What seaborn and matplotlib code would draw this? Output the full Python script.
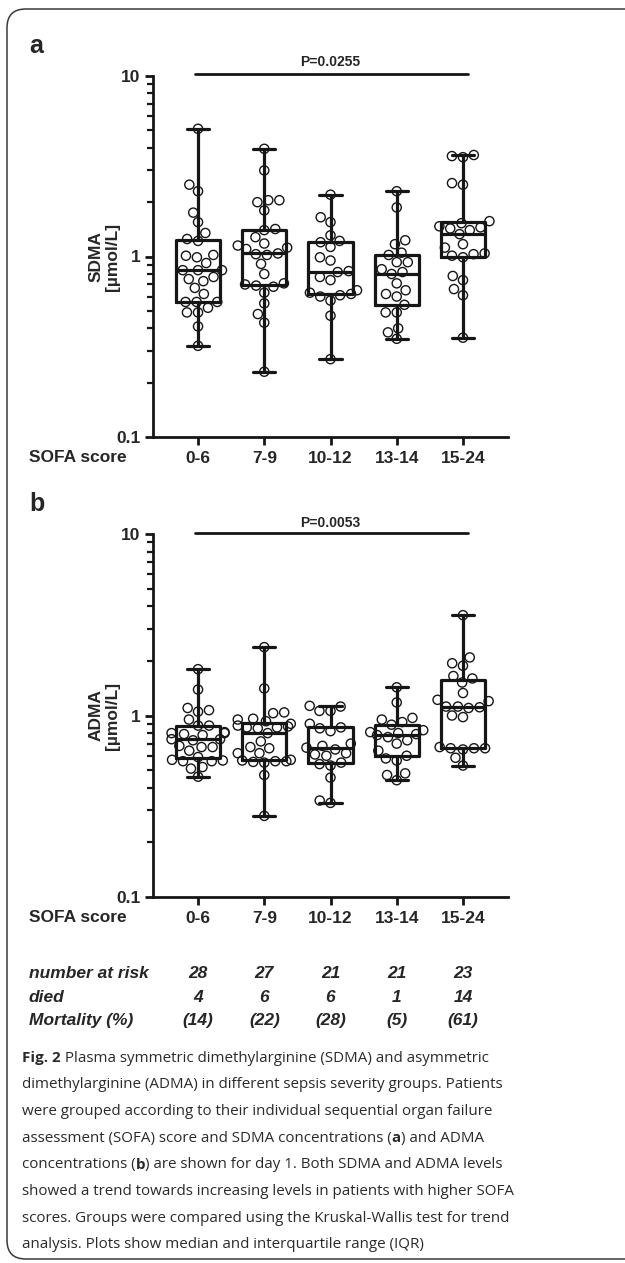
import matplotlib
matplotlib.use('Agg')
import pandas as pd
import matplotlib.pyplot as plt
import seaborn as sns
from matplotlib.patches import FancyBboxPatch
from matplotlib.ticker import FixedLocator, NullFormatter
from matplotlib.transforms import blended_transform_factory

groups = ['0-6', '7-9', '10-12', '13-14', '15-24']

# SDMA day 1 (umol/L)
sdma_0_6 = [0.32, 0.41, 0.49, 0.49, 0.52, 0.56, 0.56, 0.56, 0.62, 0.67, 0.73, 0.75, 0.77, 0.84,
            0.84, 0.84, 0.92, 0.99, 1.01, 1.02, 1.22, 1.25, 1.35, 1.55, 1.75, 2.3, 2.5, 5.1]
sdma_7_9 = [0.23, 0.43, 0.48, 0.55, 0.63, 0.68, 0.69, 0.70, 0.71, 0.80, 0.91, 1.02, 1.03, 1.04,
            1.10, 1.12, 1.15, 1.18, 1.28, 1.40, 1.42, 1.8, 2.0, 2.05, 2.05, 3.0, 3.95]
sdma_10_12 = [0.27, 0.47, 0.57, 0.60, 0.61, 0.62, 0.63, 0.65, 0.74, 0.77, 0.82, 0.83, 0.95, 0.99,
              1.13, 1.20, 1.22, 1.31, 1.55, 1.65, 2.2]
sdma_13_14 = [0.35, 0.38, 0.40, 0.49, 0.49, 0.54, 0.60, 0.62, 0.65, 0.71, 0.80, 0.82, 0.85, 0.93,
              0.93, 1.02, 1.05, 1.17, 1.23, 1.87, 2.3]
sdma_15_24 = [0.355, 0.61, 0.66, 0.74, 0.78, 0.99, 1.01, 1.03, 1.04, 1.12, 1.17, 1.33, 1.40, 1.43,
              1.45, 1.47, 1.53, 1.57, 2.5, 2.55, 3.55, 3.6, 3.65]

# ADMA day 1 (umol/L)
adma_0_6 = [0.46, 0.51, 0.52, 0.56, 0.56, 0.565, 0.57, 0.59, 0.64, 0.67, 0.67, 0.68, 0.73, 0.74,
            0.74, 0.78, 0.79, 0.80, 0.80, 0.81, 0.88, 0.88, 0.95, 1.05, 1.07, 1.1, 1.39, 1.8]
adma_7_9 = [0.28, 0.47, 0.55, 0.555, 0.56, 0.56, 0.565, 0.57, 0.62, 0.62, 0.66, 0.67, 0.72, 0.80,
            0.85, 0.86, 0.86, 0.87, 0.88, 0.90, 0.93, 0.95, 0.96, 1.03, 1.04, 1.41, 2.38]
adma_10_12 = [0.33, 0.34, 0.455, 0.53, 0.54, 0.55, 0.60, 0.61, 0.62, 0.65, 0.665, 0.68, 0.70, 0.82,
              0.85, 0.86, 0.90, 1.06, 1.06, 1.12, 1.13]
adma_13_14 = [0.44, 0.47, 0.48, 0.565, 0.58, 0.60, 0.64, 0.70, 0.73, 0.76, 0.78, 0.79, 0.80, 0.81,
              0.83, 0.89, 0.92, 0.95, 0.97, 1.18, 1.43]
adma_15_24 = [0.53, 0.585, 0.65, 0.66, 0.66, 0.66, 0.67, 0.98, 1.0, 1.10, 1.11, 1.12, 1.12, 1.2,
              1.22, 1.33, 1.52, 1.6, 1.65, 1.88, 1.94, 2.09, 3.57]

at_risk = [28, 27, 21, 21, 23]
died = [4, 6, 6, 1, 14]
mortality = [14, 22, 28, 5, 61]

sns.set_style('ticks')
plt.rcParams['font.family'] = ['Liberation Sans', 'DejaVu Sans']

W, H = 625, 1263
fig = plt.figure(figsize=(W / 100, H / 100), dpi=100)


def long_df(cols):
    rows = []
    for g, vals in zip(groups, cols):
        rows += [(g, v) for v in vals]
    return pd.DataFrame(rows, columns=['SOFA', 'value'])


def panel(top_px, bottom_px, df, ylabel, letter, ptext, line_y, text_y):
    ax = fig.add_axes([153 / W, 1 - bottom_px / H, 355 / W, (bottom_px - top_px) / H])
    sns.boxplot(data=df, x='SOFA', y='value', order=groups, whis=(0, 100), width=0.67,
                fill=False, color='#161616', linewidth=2.3, showfliers=False,
                log_scale=True, ax=ax)
    n_before = len(ax.collections)
    sns.swarmplot(data=df, x='SOFA', y='value', order=groups, size=6.6, color='white',
                  edgecolor='#161616', linewidth=1.0, ax=ax)
    for c in ax.collections[n_before:]:
        c.set_facecolor('none')
    ax.set_ylim(0.1, 10)
    ax.set_xlim(-0.68, 4.68)
    ax.yaxis.set_major_locator(FixedLocator([0.1, 1, 10]))
    ax.yaxis.set_minor_locator(FixedLocator([m * d for d in (0.1, 1) for m in range(2, 10)]))
    ax.yaxis.set_minor_formatter(NullFormatter())
    ax.set_yticklabels(['0.1', '1', '10'])
    ax.set_xlabel('')
    ax.set_ylabel('')
    for s in ['top', 'right']:
        ax.spines[s].set_visible(False)
    for s in ['left', 'bottom']:
        ax.spines[s].set_linewidth(2)
        ax.spines[s].set_color('#161616')
    ax.tick_params(axis='both', which='major', length=6, width=2, color='#161616',
                   labelsize=12.5, pad=3)
    ax.tick_params(axis='x', pad=4)
    ax.tick_params(axis='y', which='minor', length=4, width=1.6, color='#161616')
    for t in ax.get_xticklabels() + ax.get_yticklabels():
        t.set_fontweight('bold')
    ax.text(-0.138, 0.5, ylabel, transform=ax.transAxes, rotation=90, ha='center',
            va='center', fontsize=12.5, fontweight='bold', linespacing=1.15)
    ax.plot([-0.05, 4.08], [line_y, line_y], color='#161616', lw=2, clip_on=False)
    ax.text(2, text_y, ptext, ha='center', va='center', fontsize=10, fontweight='bold',
            clip_on=False)
    y_lab = 1 - (bottom_px + 20) / H
    fig.text(29 / W, y_lab, 'SOFA score', fontsize=12.5, fontweight='bold', va='center')
    fig.text(29 / W, 1 - (top_px - 30) / H, letter, fontsize=18, fontweight='bold',
             va='center')
    return ax


ax_a = panel(76, 437, long_df([sdma_0_6, sdma_7_9, sdma_10_12, sdma_13_14, sdma_15_24]),
             'SDMA\n[µmol/L]', 'a', 'P=0.0255', 10.26, 11.9)
ax_b = panel(534, 897, long_df([adma_0_6, adma_7_9, adma_10_12, adma_13_14, adma_15_24]),
             'ADMA\n[µmol/L]', 'b', 'P=0.0053', 10.1, 11.5)

# mortality table under panel b
tr = blended_transform_factory(ax_b.transData, fig.transFigure)
rows = [('number at risk', [str(v) for v in at_risk], 973),
        ('died', [str(v) for v in died], 997),
        ('Mortality (%)', ['(%d)' % v for v in mortality], 1021)]
for name, vals, ypx in rows:
    fig.text(29 / W, 1 - ypx / H, name, fontsize=12.5, fontweight='bold', style='italic',
             va='center')
    for i, v in enumerate(vals):
        fig.text(i, 1 - ypx / H, v, transform=tr, fontsize=12.5, fontweight='bold',
                 style='italic', ha='center', va='center')

# caption
caption = [
    [('Fig. 2', 'bold'), (' Plasma symmetric dimethylarginine (SDMA) and asymmetric', 'normal')],
    [('dimethylarginine (ADMA) in different sepsis severity groups. Patients', 'normal')],
    [('were grouped according to their individual sequential organ failure', 'normal')],
    [('assessment (SOFA) score and SDMA concentrations (', 'normal'), ('a', 'bold'),
     (') and ADMA', 'normal')],
    [('concentrations (', 'normal'), ('b', 'bold'),
     (') are shown for day 1. Both SDMA and ADMA levels', 'normal')],
    [('showed a trend towards increasing levels in patients with higher SOFA', 'normal')],
    [('scores. Groups were compared using the Kruskal-Wallis test for trend', 'normal')],
    [('analysis. Plots show median and interquartile range (IQR)', 'normal')],
]
renderer = fig.canvas.get_renderer()
for k, parts in enumerate(caption):
    x = 22 / W
    y = 1 - (1058 + k * 26.7) / H
    for s, w in parts:
        t = fig.text(x, y, s, fontsize=10.9, fontweight=w, family='Open Sans', color='#2a2a2a',
                     va='center')
        bb = t.get_window_extent(renderer)
        x = bb.x1 / fig.bbox.width

# rounded frame around the figure
frame = FancyBboxPatch((7 / W, 4 / H), 700 / W, 1250 / H, boxstyle='round,pad=0,rounding_size=0.03',
                       transform=fig.transFigure, fill=False, edgecolor='#3a3a3a', lw=1.1,
                       mutation_aspect=W / H)
fig.patches.append(frame)

fig.savefig('out.png', dpi=100)
